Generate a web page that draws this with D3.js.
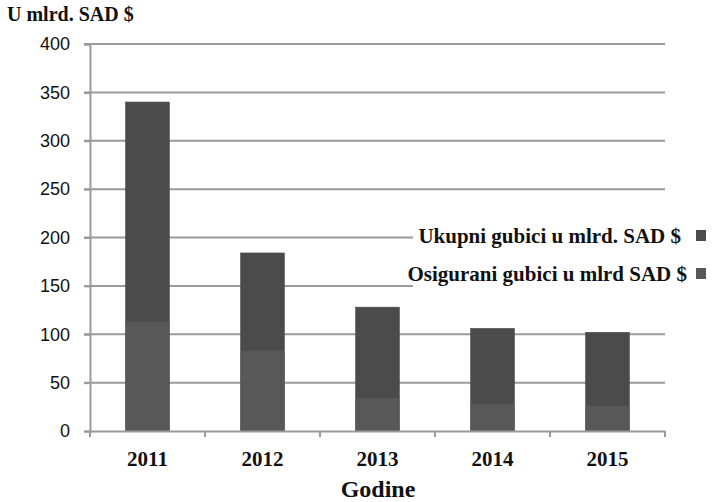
<!DOCTYPE html>
<html><head><meta charset="utf-8">
<script src="https://cdn.jsdelivr.net/npm/d3@7"></script>
<style>body{margin:0;background:#fff}</style>
</head><body>
<svg id="c" width="712" height="502"></svg>
<script>
const years = ["2011","2012","2013","2014","2015"];
const totalLosses = [340, 184, 128, 106, 102];
const insuredLosses = [113, 83, 34, 28, 26];
const yTicks = [0,50,100,150,200,250,300,350,400];
const legendLabels = ["Ukupni gubici u mlrd. SAD $", "Osigurani gubici u mlrd SAD $"];
const colors = ["#4b4b4b", "#585858"];
const SERIF = "'Liberation Serif', 'Times New Roman', serif";
const SANS = "'Liberation Sans', Arial, sans-serif";

const svg = d3.select("#c");
const L = 90, R = 665, T = 44, B = 431;
const x = d3.scaleBand().domain(years).range([L, R]).paddingInner(0.62).paddingOuter(0.31);
const xb = d3.scaleBand().domain(years).range([L, R]);
const y = d3.scaleLinear().domain([0, 400]).range([B, T]);

// gridlines
svg.append("g").selectAll("line").data(yTicks.filter(d => d > 0)).join("line")
  .attr("x1", L - 6).attr("x2", R).attr("y1", d => y(d)).attr("y2", d => y(d))
  .attr("stroke", "#9a9a9a").attr("stroke-width", 2);

// bars
svg.append("g").selectAll("rect").data(years).join("rect")
  .attr("x", d => x(d)).attr("width", x.bandwidth())
  .attr("y", (d,i) => y(totalLosses[i])).attr("height", (d,i) => B - y(totalLosses[i]))
  .attr("fill", colors[0]).attr("stroke", "#444").attr("stroke-width", 0.6);
svg.append("g").selectAll("rect").data(years).join("rect")
  .attr("x", d => x(d)).attr("width", x.bandwidth())
  .attr("y", (d,i) => y(insuredLosses[i])).attr("height", (d,i) => B - y(insuredLosses[i]))
  .attr("fill", colors[1]);

// y axis
const ya = svg.append("g").attr("transform", `translate(${L},0)`)
  .call(d3.axisLeft(y).tickValues(yTicks).tickSize(6).tickPadding(14));
ya.select(".domain").attr("stroke", "#9a9a9a").attr("stroke-width", 2);
ya.selectAll(".tick line").attr("stroke", "#9a9a9a").attr("stroke-width", 2);
ya.selectAll("text").attr("font-family", SANS).attr("font-size", 18).attr("fill", "#111");

// x axis
const xa = svg.append("g").attr("transform", `translate(0,${B})`)
  .call(d3.axisBottom(xb).tickSize(0).tickPadding(20));
xa.select(".domain").attr("stroke", "#9a9a9a").attr("stroke-width", 2);
xa.selectAll("text").attr("font-family", SERIF)
  .attr("font-weight", "bold").attr("font-size", 21).attr("fill", "#111");
svg.append("g").selectAll("line").data(years.map((d)=>xb(d)).concat([R])).join("line")
  .attr("x1", d => d).attr("x2", d => d).attr("y1", B).attr("y2", B + 6)
  .attr("stroke", "#9a9a9a").attr("stroke-width", 2);

// titles
svg.append("text").attr("x", 7).attr("y", 21).text("U mlrd. SAD $")
  .attr("font-family", SERIF).attr("font-weight", "bold").attr("font-size", 20).attr("fill", "#111");
svg.append("text").attr("x", 378).attr("y", 497).attr("text-anchor", "middle").text("Godine")
  .attr("font-family", SERIF).attr("font-weight", "bold").attr("font-size", 24).attr("fill", "#111");

// legend
svg.append("rect").attr("x", 413).attr("y", 212).attr("width", 299).attr("height", 86).attr("fill", "#fff");
const lg = svg.append("g");
const ly = [243, 281];
legendLabels.forEach((t, i) => {
  lg.append("text").attr("x", i === 0 ? 681 : 687).attr("y", ly[i]).attr("text-anchor", "end").text(t)
    .attr("font-family", SERIF).attr("font-weight", "bold").attr("font-size", 21).attr("fill", "#111");
  lg.append("rect").attr("x", 696).attr("y", ly[i] - 13).attr("width", 10).attr("height", 11).attr("fill", colors[i]);
});
</script>
</body></html>
